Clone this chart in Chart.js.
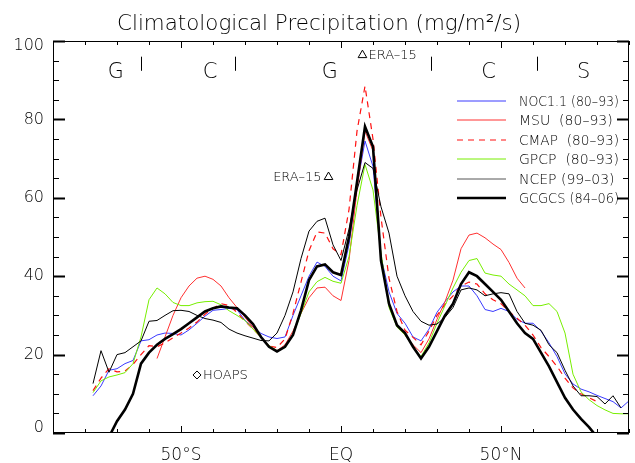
<!DOCTYPE html>
<html>
<head>
<meta charset="utf-8">
<script src="https://cdn.jsdelivr.net/npm/chart.js@4"></script>
<style>
html,body{margin:0;padding:0;background:#fff;}
</style>
</head>
<body>
<canvas id="c" width="635" height="463"></canvas>
<script>
/* DATA */

const lat = [-80,-77.5,-75,-72.5,-70,-67.5,-65,-62.5,-60,-57.5,-55,-52.5,-50,-47.5,-45,-42.5,-40,-37.5,-35,-32.5,
-30,-27.5,-25,-22.5,-20,-17.5,-15,-12.5,-10,-7.5,-5,-2.5,0,2.5,5,7.5,10,12.5,15,17.5,
20,22.5,25,27.5,30,32.5,35,37.5,40,42.5,45,47.5,50,52.5,55,57.5,60,62.5,65,67.5,
70,72.5,75,77.5,80,82.5,85,87.5,90];

const noc = [null,9.5,12,16,16.4,17.7,18.5,23.5,23.8,25,25.5,25.4,25,26.3,28,29.8,31.3,31.5,31.8,31.5,
28.7,27,25.4,24.5,24.1,24.5,30,35,40,43.6,42.5,40,38.8,48,63,74.5,68,45,36,30.5,
28,24.5,23.5,26.5,30.8,33.5,36,37.5,37.5,35,31.5,31,31.8,31,29,28,28,26,23,19.5,
15.1,12.5,11.2,10.5,9.6,8.8,8,6.4,8.2];

const msu = [null,null,null,null,null,null,null,null,null,19,24.5,30,34.5,37.5,39.5,40,39.2,37.5,34.5,32,
29.5,27,24.5,22.3,21,22.5,26,30.5,34.5,37,37.2,35,33.8,44,62,77,72,45,33,27.5,
25,22.5,20.5,24,29,33.5,39,47,50.5,51,49.8,48.2,46.8,43.5,39.5,37,null,null,null,null,
null,null,null,null,null,null,null,null,null];

const cmap = [null,10.8,14,16.4,15.6,15.8,17.5,20,22.3,22,23,24.3,25.5,26.8,28.3,30.3,31.8,33,32.5,30.8,
28.5,26.6,24.5,22.2,21.8,24,30.5,38.5,46.5,51.3,51,47,45.5,57,77,88.5,75,55,39.5,31,
26.2,24.4,22.5,26,30,32.8,35,37.5,38.5,38,35.5,34,33,31,29.3,27.5,25,21.8,19.5,17,
14,11.5,10,9,8,null,null,null,null];

const gpcp = [null,10.3,13.3,14.3,14.8,15.4,17.7,24.5,34,37,35.5,33.3,32.5,32.5,33.2,33.5,33.6,32.7,31.2,30,
28.7,26.5,24.4,22.3,21,21.8,25,30.5,36,38.6,39.7,38.7,38.2,45,58,68.5,62,46,32,27,
25,22,19.5,23,28,32.5,37,41,44,44.5,40.8,40.3,40,38,36.5,35,32.5,32.5,33,31,
25.5,15,10.5,8.5,7,5.9,5,4.9,4.9];

const ncep = [null,12.6,21,15.5,20,20.5,22,23.5,28.5,28.7,30,31.2,31.3,31,30,29.2,28.8,28.2,26.5,25.5,
24.8,24.2,23.6,23.5,25.5,30,36,44.5,51.5,54,54.8,48,44,52,62,69,67.5,57.7,51,40,
35,31,28.5,27.5,27.8,29.5,32,36.5,37,36.5,35,35.5,35.8,35.5,31,28,27.5,26.2,22.5,20.5,
16,12,9.5,9.5,9.3,7.4,9.5,6.4,null];

const gcgcs = [null,null,null,-1,3,6,10,17.7,20.5,22.5,24,25.2,26.5,28,29.5,31,31.8,32.3,32,31.8,
30,27.8,24.5,22,20.8,22,25,31.3,39,42.5,43,41,40.3,50,64,78.2,73,44,33,27.5,
25.5,22,19,22,26,30,33,38,41,40,38,36,34,31,28,25.5,24,20.5,17,13,
9,6,3.6,1.5,-1,null,null,null,null];

const seriesNames = ["NOC1.1 (80-93)","MSU  (80-93)","CMAP  (80-93)","GPCP  (80-93)","NCEP (99-03)","GCGCS (84-06)"];

// ERA-15 and HOAPS single values
const markerLat = [6.7,-3.9,-45];
const markerVal = [96.4,65.3,14.8];
const markerNames = ["ERA-15","ERA-15","HOAPS"];

// source letters across the top
const bandLetters = ["G","C","G","C","S"];
const bandLat = [-70.4,-40.9,-3.5,46.1,75.8];
const bandEdges = [-62.4,-33,28,61.2];

const xTickValues = [-50,0,50];
const xTickLabels = ["50°S","EQ","50°N"];
const yTickValues = [0,20,40,60,80,100];

/* STYLE */

const FONT = '"DejaVu Sans"';
const colors = ["#3a3aff","#ff3030","#ff1010","#77ee00","#000000","#000000"];
const widths = [1,1,1.2,1,1,2.6];
const dashes = [[],[],[6,5],[],[],[]];

const pts = s => lat.map((x,i)=>({x:x, y:s[i]}));
const all = [noc,msu,cmap,gpcp,ncep,gcgcs];

const datasets = all.map((s,i)=>({
label:seriesNames[i],
data:pts(s),
borderColor:colors[i],
borderWidth:widths[i],
borderDash:dashes[i],
pointRadius:0,
tension:0,
fill:false,
order: 6-i
}));

datasets.push({
label:"markers",
data:markerLat.map((x,i)=>({x:x,y:markerVal[i]})),
showLine:false,
pointStyle:["triangle","triangle","rectRot"],
pointRadius:[5,5,4],
borderColor:"#000",
backgroundColor:"rgba(0,0,0,0)",
pointBorderWidth:1,
order:0
});

/* FRAME, TITLE, LEGEND, NOTES */

const deco = {
id:"deco",
afterDraw(chart){
const {ctx, chartArea:a, scales:{x,y}} = chart;
ctx.save();
ctx.strokeStyle="#000";
ctx.lineWidth=1;
ctx.strokeRect(a.left+0.5,a.top+0.5,a.right-a.left-1,a.bottom-a.top-1);

ctx.beginPath();
for(let v=-90;v<=90;v+=10){
const px=Math.round(x.getPixelForValue(v))+0.5;
const len=(v%50===0)?7:4;
ctx.moveTo(px,a.bottom);ctx.lineTo(px,a.bottom-len);
ctx.moveTo(px,a.top);ctx.lineTo(px,a.top+len);
}
ctx.stroke();
for(let v=0;v<=100;v+=5){
const py=Math.round(y.getPixelForValue(v))+0.5;
const major=(v%20===0);
const len=major?12:6;
ctx.lineWidth=major?2:1;
ctx.beginPath();
ctx.moveTo(a.left,py);ctx.lineTo(a.left+len,py);
ctx.moveTo(a.right,py);ctx.lineTo(a.right-len,py);
ctx.stroke();
}
ctx.lineWidth=1;

// y labels, kept inside the frame at the ends
ctx.fillStyle="#000";
ctx.font="200 16px "+FONT;
ctx.textAlign="right";
ctx.textBaseline="middle";
yTickValues.forEach(v=>{
let py=y.getPixelForValue(v);
py=Math.min(Math.max(py,a.top+5),a.bottom-5);
ctx.fillText(String(v),a.left-9,py,34);
});

// title
ctx.font="200 22px "+FONT;
ctx.textAlign="center";
ctx.textBaseline="alphabetic";
ctx.fillText("Climatological Precipitation (mg/m²/s)",319,30,404);

// letters
ctx.font="200 21px "+FONT;
bandLetters.forEach((t,i)=>{
ctx.fillText(t,x.getPixelForValue(bandLat[i]),y.getPixelForValue(90.5),16);
});
ctx.beginPath();
bandEdges.forEach(v=>{
const px=Math.round(x.getPixelForValue(v))+0.5;
ctx.moveTo(px,y.getPixelForValue(96));ctx.lineTo(px,y.getPixelForValue(92.4));
});
ctx.stroke();

// marker notes
ctx.font="200 13px "+FONT;
ctx.textBaseline="middle";
markerNames.forEach((t,i)=>{
const px=x.getPixelForValue(markerLat[i]);
const py=y.getPixelForValue(markerVal[i]);
if(i===1){ctx.textAlign="right";ctx.fillText(t.replace("-","\u2013"),px-7,py+1);}
else{ctx.textAlign="left";ctx.fillText(t.replace("-","\u2013"),px+6,py+1);}
});

// legend
const rowY=[101,120,140,159,179,198];
ctx.textAlign="left";
ctx.font="200 14px "+FONT;
seriesNames.forEach((t,i)=>{
ctx.strokeStyle=i===4?"#555":colors[i];
ctx.lineWidth=widths[i];
ctx.setLineDash(dashes[i]);
ctx.beginPath();ctx.moveTo(457,rowY[i]);ctx.lineTo(506,rowY[i]);ctx.stroke();
ctx.setLineDash([]);
ctx.fillText(t.replace(/-/g,"\u2013"),519,rowY[i]+1,100);
});
ctx.restore();
}
};

new Chart(document.getElementById("c"),{
type:"line",
data:{datasets:datasets},
options:{
responsive:false,
animation:false,
devicePixelRatio:1,
layout:{padding:{left:0,right:-1,top:41,bottom:0}},
plugins:{legend:{display:false},tooltip:{enabled:false},title:{display:false}},
scales:{
x:{
type:"linear",min:-90,max:90,
grid:{display:false},border:{display:false},
afterFit:s=>{s.height=30;},
afterBuildTicks:s=>{s.ticks=xTickValues.map(v=>({value:v}));},
ticks:{
autoSkip:false,maxRotation:0,padding:4,color:"#000",
font:{family:FONT,size:17,weight:"200"},
callback:v=>xTickLabels[xTickValues.indexOf(v)]
}
},
y:{
min:0,max:100,
grid:{display:false},border:{display:false},
afterFit:s=>{s.width=53;},
ticks:{display:false,stepSize:20}
}
}
},
plugins:[deco]
});
</script>
</body>
</html>
